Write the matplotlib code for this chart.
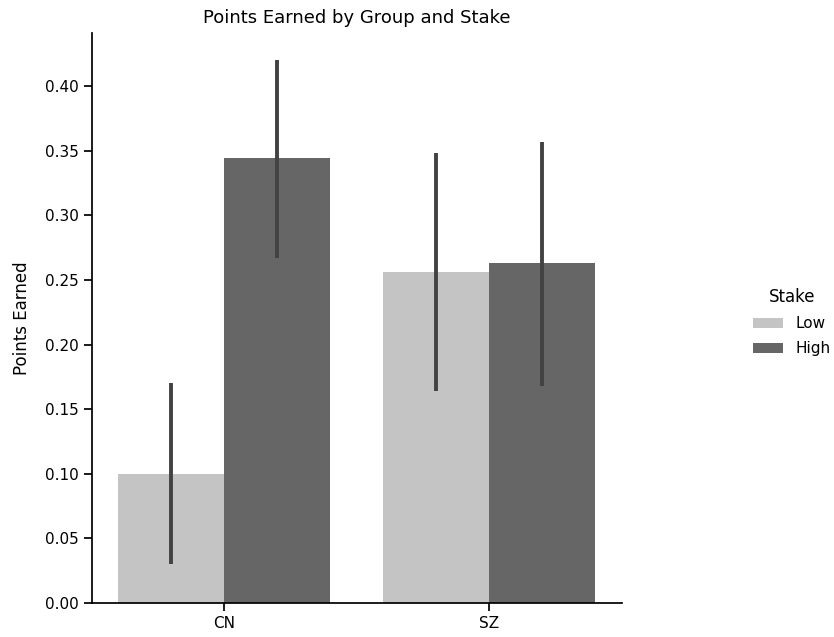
import numpy as np
import matplotlib
matplotlib.use("Agg")
import matplotlib.pyplot as plt
import seaborn as sns
from matplotlib.patches import Patch

# Mean points earned per group, split by stake level, with 95% CI bounds
groups = ["CN", "SZ"]
stakes = ["Low", "High"]
mean_low = [0.100, 0.256]
mean_high = [0.344, 0.263]
ci_low_lo = [0.030, 0.164]
ci_low_hi = [0.170, 0.348]
ci_high_lo = [0.267, 0.168]
ci_high_hi = [0.420, 0.357]

colors = ["#c4c4c4", "#666666"]

sns.set_theme(style="ticks", context="notebook")
plt.rcParams.update({
    "text.color": "black",
    "axes.labelcolor": "black",
    "axes.edgecolor": "black",
    "xtick.color": "black",
    "ytick.color": "black",
})

fig = plt.figure(figsize=(8.34, 6.37), dpi=100)
ax = fig.add_axes([0.1103, 0.0534, 0.6355, 0.8946])

x = np.arange(len(groups))
width = 0.4
series = [
    (mean_low, ci_low_lo, ci_low_hi),
    (mean_high, ci_high_lo, ci_high_hi),
]
for i, (means, lo, hi) in enumerate(series):
    pos = x - 0.2 + i * width
    ax.bar(pos, means, width=width, color=colors[i], edgecolor="none")
    ax.vlines(pos, lo, hi, color="#424242", linewidth=2.8)

ax.set_xlim(-0.5, 1.5)
ax.set_ylim(0, 0.441)
ax.set_xticks(x)
ax.set_xticklabels(groups)
ax.set_yticks(np.arange(0, 0.41, 0.05))
ax.set_yticklabels([f"{v:.2f}" for v in np.arange(0, 0.41, 0.05)])
ax.set_xlabel("")
ax.set_ylabel("Points Earned", labelpad=10)
ax.set_title("Points Earned by Group and Stake", fontsize=13, pad=7)
sns.despine(ax=ax)

handles = [Patch(facecolor=c, edgecolor="none") for c in colors]
leg = fig.legend(handles, stakes, title="Stake", loc="center left",
                 bbox_to_anchor=(0.886, 0.494), frameon=False,
                 labelspacing=0.65, fontsize=11, title_fontsize=12)

fig.savefig("out.png", dpi=100)
